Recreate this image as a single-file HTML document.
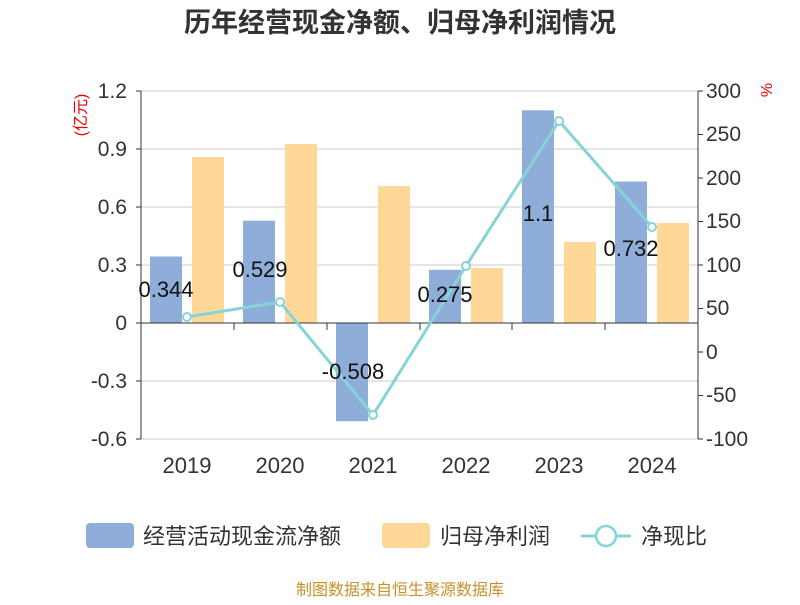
<!DOCTYPE html>
<html><head><meta charset="utf-8"><style>
body{margin:0;background:#fff;}
svg text{font-family:"Liberation Sans","Noto Sans CJK SC",sans-serif;}
</style></head><body>
<svg width="800" height="600" viewBox="0 0 800 600" xmlns="http://www.w3.org/2000/svg">
<rect width="800" height="600" fill="#fff"/>
<text x="400" y="32" text-anchor="middle" font-size="27" font-weight="bold" fill="#333">历年经营现金净额、归母净利润情况</text>
<g stroke="#ccc" stroke-width="1">
<line x1="141" x2="698" y1="91" y2="91"/><line x1="141" x2="698" y1="149" y2="149"/>
<line x1="141" x2="698" y1="207" y2="207"/><line x1="141" x2="698" y1="265" y2="265"/>
<line x1="141" x2="698" y1="381" y2="381"/><line x1="141" x2="698" y1="439" y2="439"/>
</g>
<g fill="#8eadd9">
<rect x="150" y="256.5" width="32" height="66.5"/>
<rect x="243" y="220.7" width="32" height="102.3"/>
<rect x="336" y="323" width="32" height="98.2"/>
<rect x="429" y="269.8" width="32" height="53.2"/>
<rect x="522" y="110.3" width="32" height="212.7"/>
<rect x="615" y="181.5" width="32" height="141.5"/>
</g>
<g fill="#ffd898">
<rect x="192" y="157" width="32" height="166"/>
<rect x="285" y="144" width="32" height="179"/>
<rect x="378" y="186" width="32" height="137"/>
<rect x="471" y="268" width="32" height="55"/>
<rect x="564" y="242" width="32" height="81"/>
<rect x="657" y="223" width="32" height="100"/>
</g>
<g stroke="#333" stroke-width="1">
<line x1="141" x2="141" y1="91" y2="439"/><line x1="698" x2="698" y1="91" y2="439"/>
<line x1="141" x2="698" y1="323" y2="323"/>
<line x1="136" x2="141" y1="91" y2="91"/><line x1="136" x2="141" y1="149" y2="149"/><line x1="136" x2="141" y1="207" y2="207"/><line x1="136" x2="141" y1="265" y2="265"/><line x1="136" x2="141" y1="323" y2="323"/><line x1="136" x2="141" y1="381" y2="381"/><line x1="136" x2="141" y1="439" y2="439"/>
<line x1="698" x2="703" y1="91" y2="91"/><line x1="698" x2="703" y1="134.5" y2="134.5"/><line x1="698" x2="703" y1="178" y2="178"/><line x1="698" x2="703" y1="221.5" y2="221.5"/><line x1="698" x2="703" y1="265" y2="265"/><line x1="698" x2="703" y1="308.5" y2="308.5"/><line x1="698" x2="703" y1="352" y2="352"/><line x1="698" x2="703" y1="395.5" y2="395.5"/><line x1="698" x2="703" y1="439" y2="439"/>
<line x1="141" x2="141" y1="323" y2="330"/><line x1="234" x2="234" y1="323" y2="330"/><line x1="327" x2="327" y1="323" y2="330"/><line x1="420" x2="420" y1="323" y2="330"/><line x1="512" x2="512" y1="323" y2="330"/><line x1="605" x2="605" y1="323" y2="330"/><line x1="698" x2="698" y1="323" y2="330"/>
</g>
<g font-size="21" fill="#333" text-anchor="end">
<text x="127" y="98">1.2</text><text x="127" y="156">0.9</text><text x="127" y="214">0.6</text><text x="127" y="272">0.3</text><text x="127" y="330">0</text><text x="127" y="388">-0.3</text><text x="127" y="446">-0.6</text>
</g>
<g font-size="21" fill="#333" text-anchor="start">
<text x="706" y="98">300</text><text x="706" y="141">250</text><text x="706" y="185">200</text><text x="706" y="228">150</text><text x="706" y="272">100</text><text x="706" y="315">50</text><text x="706" y="359">0</text><text x="706" y="402">-50</text><text x="706" y="446">-100</text>
</g>
<text transform="translate(86,115) rotate(-90)" font-size="16" fill="#e00" text-anchor="middle">(亿元)</text>
<text transform="translate(772,90) rotate(-90)" font-size="16" fill="#e00" text-anchor="middle">%</text>
<g font-size="22" fill="#333" text-anchor="middle">
<text x="187" y="473">2019</text><text x="280" y="473">2020</text><text x="373" y="473">2021</text><text x="466" y="473">2022</text><text x="559" y="473">2023</text><text x="652" y="473">2024</text>
</g>
<polyline points="187,317 280,302 373,415 466,266 559,121 652,227" fill="none" stroke="#86d3d8" stroke-width="3"/>
<g fill="#fff" stroke="#86d3d8" stroke-width="2">
<circle cx="187" cy="317" r="4"/><circle cx="280" cy="302" r="4"/><circle cx="373" cy="415" r="4"/><circle cx="466" cy="266" r="4"/><circle cx="559" cy="121" r="4"/><circle cx="652" cy="227" r="4"/>
</g>
<g font-size="22" fill="#111" text-anchor="middle">
<text x="166" y="297">0.344</text><text x="260" y="277">0.529</text><text x="353" y="379">-0.508</text><text x="445" y="302">0.275</text><text x="538" y="221">1.1</text><text x="631" y="256">0.732</text>
</g>
<rect x="86" y="523" width="48" height="25" rx="4" fill="#8eadd9"/>
<text x="143" y="544" font-size="22" fill="#333">经营活动现金流净额</text>
<rect x="382" y="523" width="48" height="25" rx="4" fill="#ffd898"/>
<text x="440" y="544" font-size="22" fill="#333">归母净利润</text>
<line x1="581" x2="631" y1="536" y2="536" stroke="#86d3d8" stroke-width="3"/>
<circle cx="606" cy="536" r="10" fill="#fff" stroke="#86d3d8" stroke-width="2.5"/>
<text x="641" y="544" font-size="22" fill="#333">净现比</text>
<text x="400" y="595" font-size="16" fill="#c8902a" text-anchor="middle">制图数据来自恒生聚源数据库</text>
</svg>
</body></html>
